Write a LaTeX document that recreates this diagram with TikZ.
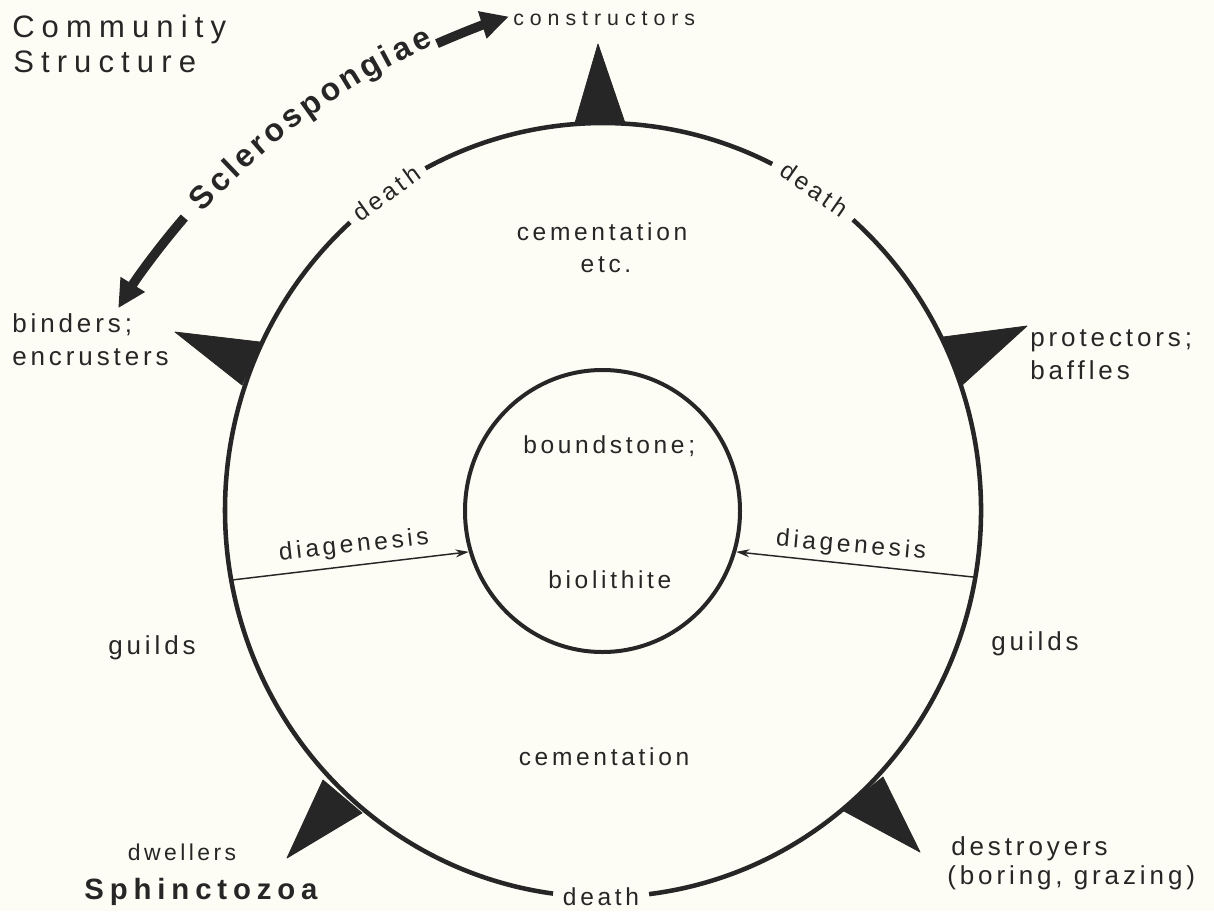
\documentclass[tikz,border=0pt]{standalone}
\usepackage{fontspec}
\setmainfont{Liberation Sans}
\newfontfamily\lab[LetterSpace=15]{Liberation Sans}
\newfontfamily\labwide[LetterSpace=28]{Liberation Sans}
\newfontfamily\labtitle[LetterSpace=23]{Liberation Sans}
\newfontfamily\labbold[LetterSpace=20]{Liberation Sans Bold}
\newfontfamily\sclfont{Liberation Sans Bold}
\usetikzlibrary{arrows.meta,shapes.geometric,calc}
\definecolor{ink}{RGB}{38,38,38}
\definecolor{paper}{RGB}{253,253,245}
\begin{document}
\begin{tikzpicture}[x=0.75pt,y=0.75pt,
  lbl/.style={font=\lab\fontsize{18.4}{22}\selectfont, text=ink, inner sep=0pt},
  outer/.style={font=\lab\fontsize{19.5}{23}\selectfont, text=ink, inner sep=0pt},
  big/.style={font=\labtitle\fontsize{23.25}{27}\selectfont, text=ink, inner sep=0pt},
  scl/.style={font=\sclfont\fontsize{24}{28}\selectfont, text=ink, inner sep=0pt},
  ring/.style={draw=ink, line width=3.4pt},
  pennant/.style={fill=ink, draw=ink, line width=0.6pt, line join=round},
  diag/.style={draw=ink, line width=1.1pt, -{Stealth[length=10pt,width=6pt]}},
  fat/.style={draw=ink, line width=7pt, -{Triangle[length=21pt,width=20pt]}},
]
\fill[paper] (0,0) rectangle (1214,-911);
\useasboundingbox (0,0) rectangle (1214,-911);

% outer ring with gaps for "death"
\coordinate (C) at (603,-510);
\draw[ring] (C) ++(277:378 and 387) arc[start angle=277, end angle=408.6, x radius=378, y radius=387];
\draw[ring] (C) ++(63.4:378 and 387) arc[start angle=63.4, end angle=118, x radius=378, y radius=387];
\draw[ring] (C) ++(132:378 and 387) arc[start angle=132, end angle=262.4, x radius=378, y radius=387];

% pennants
\path[pennant] (575,-123) -- (598,-44) -- (625,-123) -- cycle;
\path[pennant] (943,-337) -- (1027,-326) -- (960,-387) -- cycle;
\path[pennant] (260,-342) -- (175,-332) -- (242,-385) -- cycle;
\path[pennant] (323,-780) -- (287,-858) -- (362,-813) -- cycle;
\path[pennant] (883,-777) -- (920,-852) -- (842,-810) -- cycle;

% death labels
\node[lbl, rotate=35.6] (d1) at ($(C)+(125:378 and 387)$) {death};
\node[lbl, rotate=-34.6] (d2) at ($(C)+(56:378 and 387)$) {death};
\node[lbl] (d3) at ($(C)+(269.7:378 and 387)$) {death};

% inner circle
\node[ellipse, draw=ink, line width=3pt, minimum width=206.25pt, minimum height=211.5pt, inner sep=0pt] (inner) at (602.5,-511) {};
\coordinate (Lstart) at (232,-580);
\coordinate (Rstart) at (973,-577);
\draw[diag] (Lstart) -- (inner.197.3);
\draw[diag] (Rstart) -- (inner.343);

% Sclerospongiae arrow
\coordinate (O) at (715,-674);
\draw[fat] (O) ++(139.3:700) arc[start angle=139.3, end angle=148.5, radius=700];
\draw[fat] (O) ++(113.8:689) arc[start angle=113.8, end angle=107.4, radius=689];
\foreach \ch/\ang [count=\k] in {S/137.11, c/135.17, l/133.75, e/132.32, r/130.76, o/129.11, s/127.25, p/125.39, o/123.45, n/121.51, g/119.57, i/118.07, a/116.65, e/114.86}
  \node[scl, rotate=\ang-90, anchor=base] (scl\k) at ($(O)+(\ang:689)$) {\ch};

% labels
\node[big, anchor=base west] (comm) at (12,-37) {Community};
\node[big, anchor=base west] (struc) at (13,-72) {Structure};
\node[font=\labwide\fontsize{16}{19}\selectfont, text=ink, inner sep=0pt, anchor=base west] (constr) at (513,-25) {constructors};
\node[lbl, anchor=base] (cem1) at (602,-240) {cementation};
\node[lbl, anchor=base] (etc) at (606,-272) {etc.};
\node[outer, anchor=base west] (bind) at (12,-332) {binders;};
\node[outer, anchor=base west] (encr) at (12,-365) {encrusters};
\node[outer, anchor=base west] (prot) at (1030,-346) {protectors;};
\node[outer, anchor=base west] (baff) at (1030,-379) {baffles};
\node[outer] (guildL) at (152,-648) {guilds};
\node[outer] (guildR) at (1035,-644) {guilds};
\node[lbl] (cem2) at (604,-757) {cementation};
\node[lbl, anchor=base west] (bound) at (523,-453) {boundstone;};
\node[lbl, anchor=base west] (bio) at (548,-588) {biolithite};
\node[lbl, rotate=6.4] (diagL) at (354,-546) {diagenesis};
\node[lbl, rotate=-5] (diagR) at (851,-546) {diagenesis};
\node[font=\lab\fontsize{17.2}{21}\selectfont, text=ink, inner sep=0pt] (dwell) at (182,-852) {dwellers};
\node[font=\labbold\fontsize{22}{26}\selectfont, text=ink, inner sep=0pt] (sph) at (201,-892) {Sphinctozoa};
\node[outer, anchor=west] (destr) at (951,-849) {destroyers};
\node[outer, anchor=west] (bor) at (947,-878) {(boring, grazing)};
\end{tikzpicture}
\end{document}
